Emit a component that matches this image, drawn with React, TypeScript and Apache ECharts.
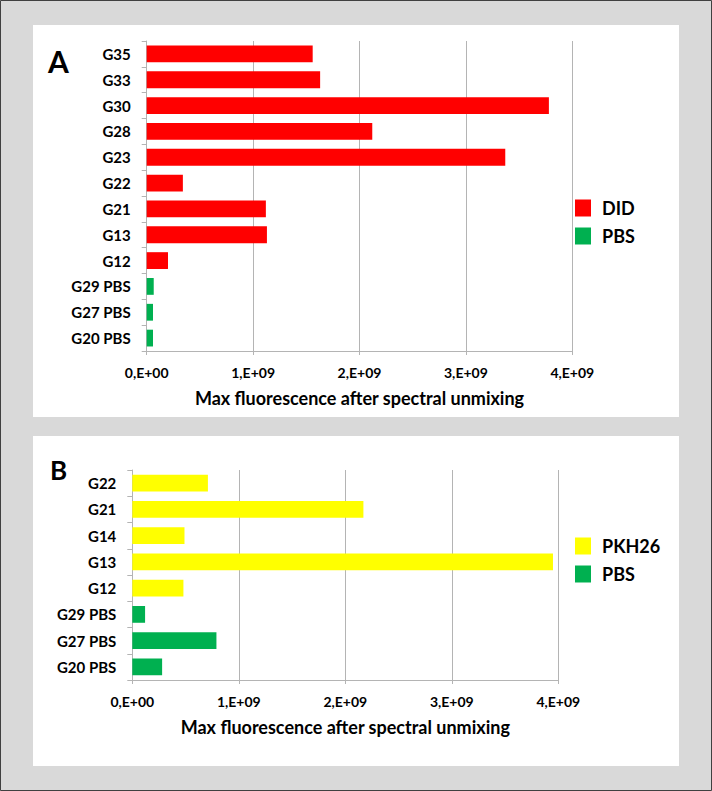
import React, { useEffect, useRef } from "react";
import * as echarts from "echarts";

// Panel A
const categoriesA = ["G35", "G33", "G30", "G28", "G23", "G22", "G21", "G13", "G12", "G29 PBS", "G27 PBS", "G20 PBS"];
const didValues = [1.56e9, 1.63e9, 3.78e9, 2.12e9, 3.37e9, 0.34e9, 1.12e9, 1.13e9, 0.2e9, null, null, null];
const pbsValuesA = [null, null, null, null, null, null, null, null, null, 0.066e9, 0.059e9, 0.059e9];

// Panel B
const categoriesB = ["G22", "G21", "G14", "G13", "G12", "G29 PBS", "G27 PBS", "G20 PBS"];
const pkhValues = [0.71e9, 2.17e9, 0.49e9, 3.95e9, 0.48e9, null, null, null];
const pbsValuesB = [null, null, null, null, null, 0.12e9, 0.79e9, 0.28e9];

const xTicks = ["0,E+00", "1,E+09", "2,E+09", "3,E+09", "4,E+09"];
const axisTitle = "Max fluorescence after spectral unmixing";

const FONT = "Lato";
const RED = "#ff0000";
const GREEN = "#00b050";
const YELLOW = "#ffff00";
const GRIDC = "#b4b4b4";

function valueAxis(gridIndex: number) {
  return {
    type: "value",
    gridIndex,
    min: 0,
    max: 4e9,
    interval: 1e9,
    axisLine: { show: true, lineStyle: { color: GRIDC, width: 1 } },
    axisTick: { show: true, length: 4, lineStyle: { color: GRIDC } },
    splitLine: { show: true, lineStyle: { color: GRIDC, width: 1 } },
    axisLabel: {
      formatter: (v: number) => xTicks[Math.round(v / 1e9)],
      fontFamily: FONT,
      fontWeight: "bold",
      fontSize: 14,
      color: "#000",
      margin: 14,
    },
    name: axisTitle,
    nameLocation: "middle",
    nameGap: 38,
    nameTextStyle: { fontFamily: FONT, fontWeight: "bold", fontSize: 18, color: "#000" },
  };
}

function catAxis(gridIndex: number, data: string[]) {
  return {
    type: "category",
    gridIndex,
    data,
    inverse: true,
    axisLine: { show: true, lineStyle: { color: GRIDC, width: 1 } },
    axisTick: { show: true, length: 5, lineStyle: { color: GRIDC } },
    axisLabel: {
      fontFamily: FONT,
      fontWeight: "bold",
      fontSize: 15,
      color: "#000",
      margin: 16,
    },
  };
}

function legend(top: number, data: string[]) {
  return {
    left: 575,
    top,
    padding: 0,
    orient: "vertical",
    icon: "rect",
    itemWidth: 16,
    itemHeight: 17,
    itemGap: 10,
    selectedMode: false,
    data,
    textStyle: { fontFamily: FONT, fontWeight: "bold", fontSize: 18, color: "#000", padding: [0, 0, 0, 6] },
  };
}

export default function App() {
  const ref = useRef<HTMLDivElement>(null);
  useEffect(() => {
    document.body.style.margin = "0";
    const chart = echarts.init(ref.current!, null, { renderer: "svg" });
    chart.setOption({
      animation: false,
      backgroundColor: "#d9d9d9",
      graphic: [
        { type: "rect", shape: { x: 0.5, y: 0.5, width: 711, height: 790 }, style: { fill: "none", stroke: "#404040", lineWidth: 1 }, z: 100 },
        { type: "rect", shape: { x: 33, y: 25, width: 646, height: 392 }, style: { fill: "#fff" }, z: -10 },
        { type: "rect", shape: { x: 33, y: 436, width: 646, height: 330 }, style: { fill: "#fff" }, z: -10 },
        { type: "text", left: 48, top: 46, style: { text: "A", font: `bold 30px ${FONT}`, fill: "#000" } },
        { type: "text", left: 50, top: 457, style: { text: "B", font: `bold 26px ${FONT}`, fill: "#000" } },
      ],
      grid: [
        { left: 146.7, top: 41, width: 425.6, height: 310, containLabel: false },
        { left: 132.3, top: 470, width: 426, height: 210, containLabel: false },
      ],
      xAxis: [valueAxis(0), valueAxis(1)],
      yAxis: [catAxis(0, categoriesA), catAxis(1, categoriesB)],
      legend: [legend(199, ["DID", "PBS"]), legend(537, ["PKH26", "PBS "])],
      series: [
        { name: "DID", type: "bar", xAxisIndex: 0, yAxisIndex: 0, data: didValues, barGap: "-100%", barCategoryGap: "35%", itemStyle: { color: RED } },
        { name: "PBS", type: "bar", xAxisIndex: 0, yAxisIndex: 0, data: pbsValuesA, barGap: "-100%", barCategoryGap: "35%", itemStyle: { color: GREEN } },
        { name: "PKH26", type: "bar", xAxisIndex: 1, yAxisIndex: 1, data: pkhValues, barGap: "-100%", barCategoryGap: "36%", itemStyle: { color: YELLOW } },
        { name: "PBS ", type: "bar", xAxisIndex: 1, yAxisIndex: 1, data: pbsValuesB, barGap: "-100%", barCategoryGap: "36%", itemStyle: { color: GREEN } },
      ],
    });
    return () => chart.dispose();
  }, []);
  return <div ref={ref} style={{ width: 712, height: 791 }} />;
}
